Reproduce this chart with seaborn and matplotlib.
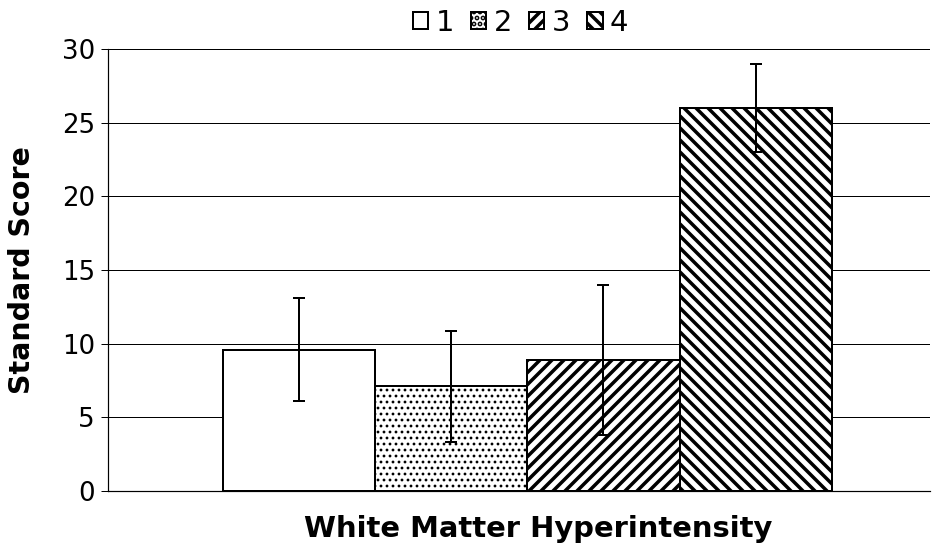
import numpy as np
import pandas as pd
import matplotlib
matplotlib.use("Agg")
import matplotlib.pyplot as plt
import seaborn as sns

# ===========================
# Data
# ===========================
region = "White Matter Hyperintensity"
groups = ["1", "2", "3", "4"]
means = [9.6, 7.1, 8.9, 26.0]
sds = [3.5, 3.75, 5.1, 3.0]
hatches = ["", "..", "//", "\\\\"]
yticks = [0, 5, 10, 15, 20, 25, 30]

df = pd.DataFrame({"region": [region] * len(groups), "group": groups, "score": means})

# ===========================
# Style
# ===========================
sns.set_theme(style="white")
plt.rcParams["font.family"] = ["DejaVu Sans"]
plt.rcParams["text.color"] = "black"
plt.rcParams["hatch.linewidth"] = 3.5

DPI = 72  # points == pixels
fig = plt.figure(figsize=(939 / DPI, 550 / DPI), dpi=DPI)
ax = fig.add_axes([108 / 939, 59 / 550, 822 / 939, 442 / 550])

sns.barplot(data=df, x="region", y="score", hue="group", hue_order=groups,
            palette=["white"] * 4, saturation=1, errorbar=None, width=0.8,
            edgecolor="black", linewidth=2, legend=False, ax=ax)

# hatches + error bars from the bars that seaborn drew
for cont, h, m, s in zip(ax.containers, hatches, means, sds):
    for p in cont.patches:
        p.set_hatch(h)
        if hasattr(p, "set_hatch_linewidth"):
            p.set_hatch_linewidth(1.6 if h == ".." else 3.5)
        xc = p.get_x() + p.get_width() / 2
        ax.errorbar(xc, m, yerr=s, fmt="none", ecolor="black",
                    elinewidth=2, capsize=6, capthick=2, zorder=5)

ax.set_xlim(-0.551, 0.529)
ax.set_ylim(0, 30)
ax.set_yticks(yticks)
ax.tick_params(axis="y", labelsize=26, length=7, width=1, color="black",
               direction="out", left=True, pad=6, labelcolor="black")
ax.tick_params(axis="x", bottom=False, labelbottom=False)
ax.yaxis.grid(True, color="black", linewidth=1)
ax.set_axisbelow(True)

for side in ["top", "right"]:
    ax.spines[side].set_visible(False)
for side in ["left", "bottom"]:
    ax.spines[side].set_color("black")
    ax.spines[side].set_linewidth(1.2)

ax.set_ylabel("Standard Score", fontsize=28.5, fontweight="bold", color="black")
ax.yaxis.set_label_coords(-0.088, 0.5)
ax.set_xlabel(region, fontsize=29, fontweight="bold", color="black")
ax.xaxis.set_label_coords(0.523, -0.055)

leg = ax.legend(handles=ax.containers, labels=groups, ncol=4,
                loc="lower center", bbox_to_anchor=(0.502, 0.995),
                frameon=False, fontsize=29, handlelength=0.52, handleheight=0.52,
                handletextpad=0.25, columnspacing=0.6, borderaxespad=0.1,
                labelcolor="black")

fig.savefig("out.png", dpi=DPI)
plt.close(fig)
